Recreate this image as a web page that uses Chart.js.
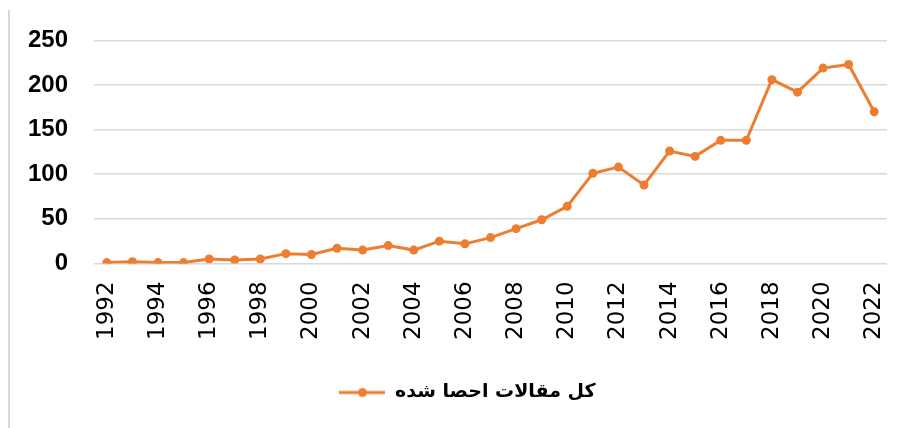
<!DOCTYPE html>
<html>
<head>
<meta charset="utf-8">
<script src="https://cdn.jsdelivr.net/npm/chart.js@4.4.1/dist/chart.umd.min.js"></script>
<style>
  html, body { margin: 0; padding: 0; background: #fff; }
  #wrap { position: relative; width: 901px; height: 428px; }
  #frame { position: absolute; left: 8px; top: 10px; bottom: 0; border-left: 2px solid #d9d9d9; }
</style>
</head>
<body>
<div id="wrap">
  <div id="frame"></div>
  <canvas id="chart" width="901" height="428"></canvas>
</div>
<script>
const years = [];
for (let y = 1992; y <= 2022; y++) years.push(String(y));

const seriesName = 'کل مقالات احصا شده';
const articles = [1, 2, 1, 1, 5, 4, 5, 11, 10, 17, 15, 20, 15, 25, 22,
  29, 39, 49, 64, 101, 108, 88, 126, 120, 138, 138, 206, 192, 219, 223, 170];

const yTicks = [0, 50, 100, 150, 200, 250];

const orange = '#ed7d31';
const gridColor = '#d9d9d9';

// legend marker: short line with a dot in the middle
const marker = document.createElement('canvas');
marker.width = 46;
marker.height = 12;
const mctx = marker.getContext('2d');
mctx.strokeStyle = orange;
mctx.lineWidth = 3;
mctx.beginPath();
mctx.moveTo(0, 6);
mctx.lineTo(46, 6);
mctx.stroke();
mctx.fillStyle = orange;
mctx.beginPath();
mctx.arc(23, 6, 4.5, 0, Math.PI * 2);
mctx.fill();

// the legend sits a little right of the canvas centre
const shiftLegend = {
  id: 'shiftLegend',
  afterLayout(chart) {
    chart.legend.left += 23;
    chart.legend.right += 23;
  }
};

new Chart(document.getElementById('chart').getContext('2d'), {
  type: 'line',
  data: {
    labels: years,
    datasets: [{
      label: seriesName,
      data: articles,
      borderColor: orange,
      backgroundColor: orange,
      borderWidth: 3,
      pointRadius: 4.5,
      pointBackgroundColor: orange,
      pointBorderWidth: 0,
      tension: 0,
      fill: false
    }]
  },
  options: {
    responsive: false,
    animation: false,
    layout: { padding: { left: 2, right: 14, top: 28, bottom: 16 } },
    plugins: {
      tooltip: { enabled: false },
      legend: {
        position: 'bottom',
        labels: {
          usePointStyle: true,
          pointStyle: marker,
          pointStyleWidth: 46,
          color: '#000',
          padding: 25,
          font: { family: 'DejaVu Sans', size: 19, weight: 'bold' }
        }
      }
    },
    scales: {
      x: {
        offset: true,
        grid: { display: false, drawTicks: false },
        border: { display: false },
        afterFit: (scale) => { scale.paddingRight = 0; },
        ticks: {
          autoSkip: false,
          minRotation: 90,
          maxRotation: 90,
          padding: 18,
          color: '#000',
          font: { family: 'DejaVu Sans', size: 23 },
          callback: (v, i) => (i % 2 === 0 ? years[i] : '')
        }
      },
      y: {
        min: 0,
        max: 250,
        afterBuildTicks: (axis) => { axis.ticks = yTicks.map(v => ({ value: v })); },
        grid: { color: gridColor, lineWidth: 1.5, drawTicks: false },
        border: { display: false },
        ticks: {
          padding: 26,
          color: '#000',
          font: { family: 'Liberation Sans', size: 24, weight: 'bold' }
        }
      }
    }
  },
  plugins: [shiftLegend]
});
</script>
</body>
</html>
